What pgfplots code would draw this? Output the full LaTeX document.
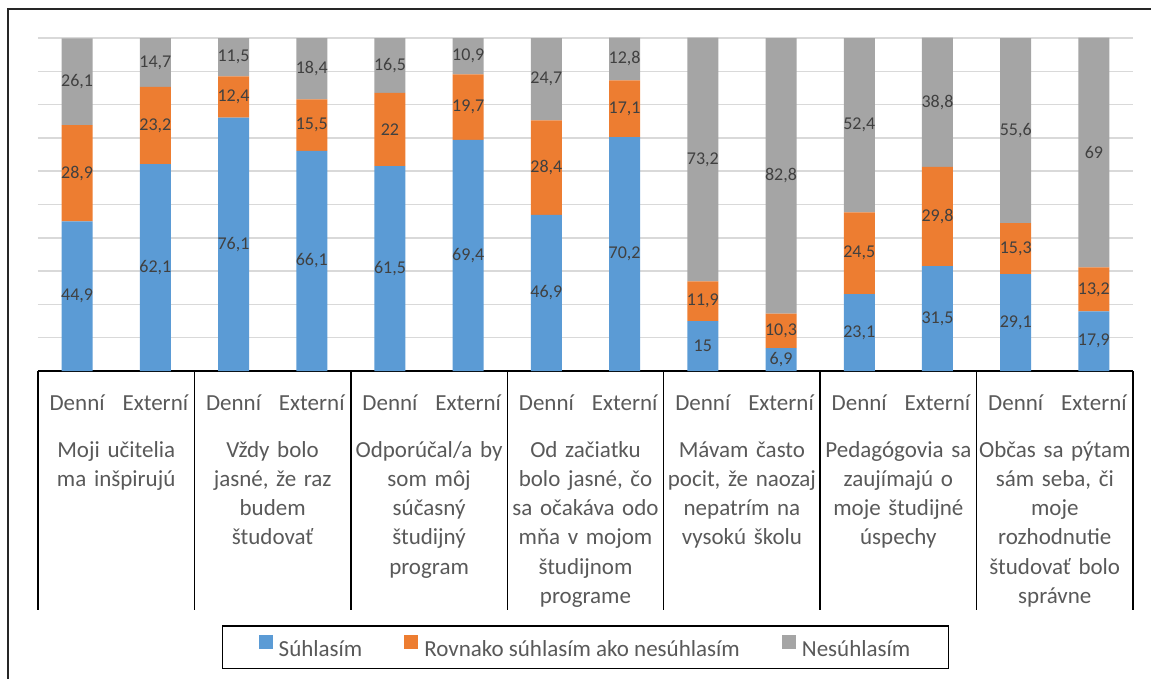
\documentclass[border=0pt]{standalone}
\usepackage{fontspec}
\setmainfont{Carlito}
\usepackage{pgfplots}
\usepackage{pgfplotstable}
\pgfplotsset{compat=1.18}

\definecolor{cblue}{HTML}{5B9BD5}
\definecolor{corange}{HTML}{ED7D31}
\definecolor{cgray}{HTML}{A5A5A5}
\definecolor{gridc}{HTML}{D9D9D9}
\definecolor{txt}{HTML}{595959}
\definecolor{lab}{HTML}{404040}

% a = Súhlasím, b = Rovnako, c = Nesúhlasím
\pgfplotstableread{
x a b c
0 44.9 28.9 26.1
1 62.1 23.2 14.7
2 76.1 12.4 11.5
3 66.1 15.5 18.4
4 61.5 22.0 16.5
5 69.4 19.7 10.9
6 46.9 28.4 24.7
7 70.2 17.1 12.8
8 15.0 11.9 73.2
9 6.9 10.3 82.8
10 23.1 24.5 52.4
11 31.5 29.8 38.8
12 29.1 15.3 55.6
13 17.9 13.2 69.0
}\data

\pgfplotsset{
  sq/.style={legend image code/.code={\fill[##1] (0pt,0pt) rectangle (14pt,14pt);}},
}

\begin{document}
\begin{tikzpicture}
\begin{axis}[
    scale only axis,
    width=1095pt, height=333pt,
    ybar stacked, bar width=31pt,
    xmin=-0.5, xmax=13.5,
    ymin=0, ymax=100,
    clip=false,
    axis x line*=bottom,
    axis y line*=left,
    y axis line style={draw=none},
    x axis line style={black, line width=1.5pt},
    ytick={0,10,...,100},
    yticklabels={},
    ymajorgrids,
    grid style={gridc, line width=1.5pt},
    major tick length=0pt,
    xtick={0,...,13},
    xticklabels={Denní,Externí,Denní,Externí,Denní,Externí,Denní,Externí,Denní,Externí,Denní,Externí,Denní,Externí},
    xticklabel style={font=\fontsize{23}{28}\selectfont, text=txt, anchor=base, yshift=-39pt},
    /pgf/number format/.cd, use comma, fixed, precision=1, assume math mode=true, /pgfplots/.cd,
    visualization depends on=rawy \as \rawy,
    nodes near coords={\pgfmathprintnumber{\rawy}},
    nodes near coords align=center,
    every node near coord/.append style={font=\fontsize{18}{20}\selectfont, text=lab, anchor=center},
    legend columns=3,
    legend style={at={(0.5,-0.763)}, anchor=north, draw=black, line width=1.5pt,
      font=\fontsize{23}{28}\selectfont, text=txt, inner xsep=36pt, inner ysep=9pt,
      /tikz/every even column/.append style={column sep=40pt},
      /tikz/every odd column/.append style={column sep=4pt}},
]
\addplot[fill=cblue, draw=none, sq] table[x=x, y=a] {\data};
\addplot[fill=corange, draw=none, sq] table[x=x, y=b] {\data};
\addplot[fill=cgray, draw=none, sq] table[x=x, y=c] {\data};
\legend{Súhlasím, Rovnako súhlasím ako nesúhlasím, Nesúhlasím}

\pgfplotsinvokeforeach{-0.5,1.5,3.5,5.5,7.5,9.5,11.5,13.5}{
  \draw[black, line width=1.5pt] (axis cs:#1,0) -- ++(0pt,-239pt);
}
\tikzset{grp/.style={anchor=base, yshift=-86pt, text width=156pt, align=center, text=txt,
  font=\fontsize{23}{29.3}\selectfont, inner sep=0pt}}
\node[grp] at (axis cs:0.5,0) {Moji učitelia\\ma inšpirujú};
\node[grp] at (axis cs:2.5,0) {Vždy bolo\\jasné, že raz\\budem\\študovať};
\node[grp] at (axis cs:4.5,0) {Odporúčal/a by\\som môj\\súčasný\\študijný\\program};
\node[grp] at (axis cs:6.5,0) {Od začiatku\\bolo jasné, čo\\sa očakáva odo\\mňa v mojom\\študijnom\\programe};
\node[grp] at (axis cs:8.5,0) {Mávam často\\pocit, že naozaj\\nepatrím na\\vysokú školu};
\node[grp] at (axis cs:10.5,0) {Pedagógovia sa\\zaujímajú o\\moje študijné\\úspechy};
\node[grp] at (axis cs:12.5,0) {Občas sa pýtam\\sám seba, či\\moje\\rozhodnutie\\študovať bolo\\správne};
\end{axis}
\draw[black!85, line width=1.5pt] (-30pt,-330pt) -- (-30pt,362pt) -- (1130pt,362pt);
\pgfresetboundingbox
\path[use as bounding box] (-38pt,-307pt) rectangle (1113pt,371pt);
\end{tikzpicture}
\end{document}
